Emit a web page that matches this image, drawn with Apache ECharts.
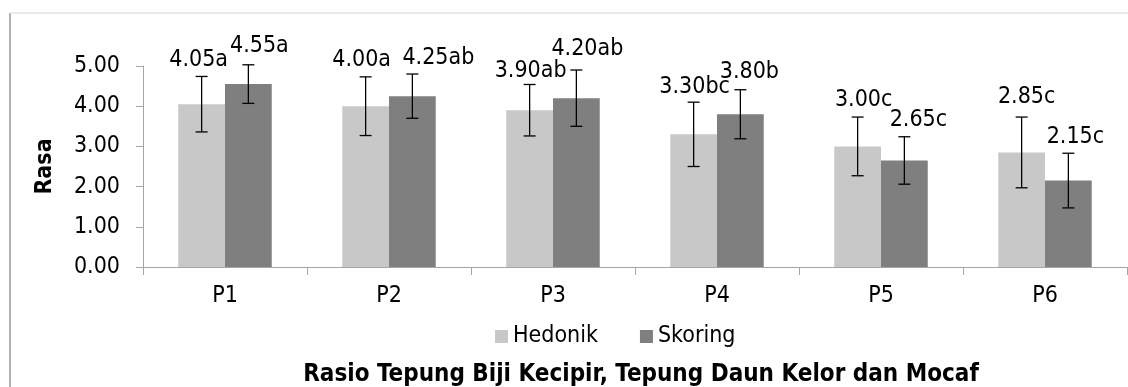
<!DOCTYPE html>
<html>
<head>
<meta charset="utf-8">
<script src="https://cdn.jsdelivr.net/npm/echarts@6/dist/echarts.min.js"></script>
<style>
html,body{margin:0;padding:0;background:#fff;}
#chart{width:1128px;height:387px;}
</style>
</head>
<body>
<div id="chart"></div>
<script>
// ---- data ----
const categories = ['P1', 'P2', 'P3', 'P4', 'P5', 'P6'];
const hedonik = [4.05, 4.00, 3.90, 3.30, 3.00, 2.85];
const skoring = [4.55, 4.25, 4.20, 3.80, 2.65, 2.15];
const hedonikSD = [0.69, 0.73, 0.64, 0.80, 0.73, 0.88];
const skoringSD = [0.48, 0.55, 0.70, 0.61, 0.59, 0.68];
const hedonikNotasi = ['a', 'a', 'ab', 'bc', 'c', 'c'];
const skoringNotasi = ['a', 'ab', 'ab', 'b', 'c', 'c'];
const yTicks = ['0.00', '1.00', '2.00', '3.00', '4.00', '5.00'];

// ---- label placement nudges (pixels, layout only) ----
const hedonikLabelNudge = [[-3, 16], [-4, 17], [1, 13], [1, 15], [6, 17], [5, 20]];
const skoringLabelNudge = [[11, 19], [26, 16], [11, 21], [9, 18], [14, 17], [7, 16]];

const FONT = 'DejaVu Sans Condensed';
const FS = 23;
const CAT_GAP = 0.43;

function errorSeries(name, means, sds, notes, nudges, side) {
  return {
    type: 'custom',
    name: name + ' SD',
    z: 5,
    data: means.map((m, i) => [i, m, sds[i]]),
    encode: { x: 0, y: 1 },
    renderItem: function (params, api) {
      const i = api.value(0), m = api.value(1), sd = api.value(2);
      const c = api.coord([i, m]);
      const bw = api.size([1, 0])[0] * (1 - CAT_GAP) / 2;
      const x = c[0] + side * bw / 2;
      const yTop = api.coord([i, m + sd])[1];
      const yBot = api.coord([i, m - sd])[1];
      const cap = 6;
      const st = { stroke: '#000', lineWidth: 1.3 };
      const nd = nudges[params.dataIndex];
      return {
        type: 'group',
        children: [
          { type: 'line', shape: { x1: x, y1: yTop, x2: x, y2: yBot }, style: st },
          { type: 'line', shape: { x1: x - cap, y1: yTop, x2: x + cap, y2: yTop }, style: st },
          { type: 'line', shape: { x1: x - cap, y1: yBot, x2: x + cap, y2: yBot }, style: st },
          { type: 'text', style: {
              text: m.toFixed(2) + notes[params.dataIndex],
              x: x + nd[0], y: yTop - nd[1],
              align: 'center', verticalAlign: 'middle',
              fill: '#000', font: FS + 'px "' + FONT + '"'
          } }
        ]
      };
    }
  };
}

const chart = echarts.init(document.getElementById('chart'), null, { renderer: 'canvas' });
chart.setOption({
  animation: false,
  backgroundColor: '#fff',
  textStyle: { fontFamily: FONT },
  grid: { left: 143, right: 1, top: 66, bottom: 120, containLabel: false },
  legend: {
    data: ['Hedonik', 'Skoring'],
    icon: 'rect', itemWidth: 13, itemHeight: 13, itemGap: 42, itemStyle: { borderWidth: 0 },
    left: 495, top: 325, padding: 0,
    textStyle: { fontSize: FS, color: '#000', fontFamily: FONT }
  },
  xAxis: {
    type: 'category',
    data: categories,
    axisLine: { lineStyle: { color: '#a6a6a6', width: 1 } },
    axisTick: { show: true, length: 8, lineStyle: { color: '#a6a6a6' } },
    axisLabel: { margin: 18, fontSize: FS, color: '#000', fontFamily: FONT }
  },
  yAxis: {
    type: 'value', min: 0, max: 5, interval: 1,
    name: 'Rasa', nameLocation: 'middle', nameGap: 86, nameRotate: 90,
    nameTextStyle: { fontSize: FS, fontWeight: 'bold', color: '#000', fontFamily: FONT },
    axisLine: { show: true, lineStyle: { color: '#a6a6a6', width: 1 } },
    axisTick: { show: true, length: 7, lineStyle: { color: '#a6a6a6' } },
    splitLine: { show: false },
    axisLabel: { margin: 23, fontSize: FS, color: '#000', fontFamily: FONT,
      formatter: v => yTicks[Math.round(v)] }
  },
  graphic: [
    { type: 'line', shape: { x1: 10, y1: 13, x2: 10, y2: 387 }, style: { stroke: '#b0b0b0', lineWidth: 2 } },
    { type: 'line', shape: { x1: 10, y1: 13, x2: 1128, y2: 13 }, style: { stroke: '#e3e3e3', lineWidth: 1.5 } },
    { type: 'text', x: 641, y: 375, style: {
        text: 'Rasio Tepung Biji Kecipir, Tepung Daun Kelor dan Mocaf',
        align: 'center', verticalAlign: 'middle', fill: '#000',
        font: 'bold 24px "' + FONT + '"' } }
  ],
  series: [
    { type: 'bar', name: 'Hedonik', data: hedonik, barGap: '0%', barCategoryGap: (CAT_GAP * 100) + '%',
      itemStyle: { color: '#c8c8c8' } },
    { type: 'bar', name: 'Skoring', data: skoring, barGap: '0%', barCategoryGap: (CAT_GAP * 100) + '%',
      itemStyle: { color: '#7f7f7f' } },
    errorSeries('Hedonik', hedonik, hedonikSD, hedonikNotasi, hedonikLabelNudge, -1),
    errorSeries('Skoring', skoring, skoringSD, skoringNotasi, skoringLabelNudge, 1)
  ]
});
</script>
</body>
</html>
